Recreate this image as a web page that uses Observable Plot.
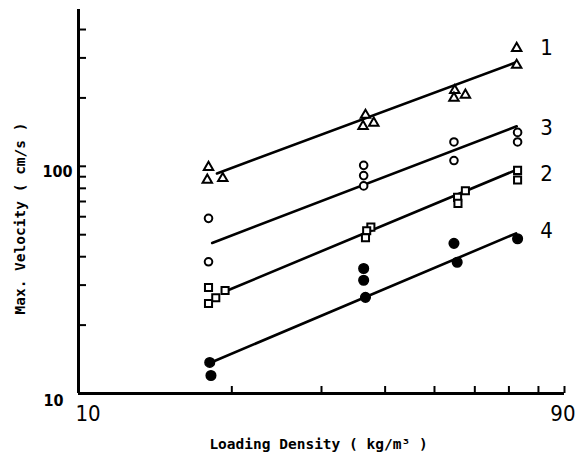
<!DOCTYPE html>
<html>
<head>
<meta charset="utf-8">
<script src="https://cdn.jsdelivr.net/npm/d3@7"></script>
<script src="https://cdn.jsdelivr.net/npm/@observablehq/plot@0.6"></script>
<style>
  html, body { margin: 0; padding: 0; background: #fff; }
  #chart svg { display: block; }
</style>
</head>
<body>
<div id="chart"></div>
<script>
// Series 1: open triangles
const x1 = [18, 17.9, 19.2, 36.6, 36.2, 38.0, 54.8, 54.6, 57.5, 72.5, 72.5];
const y1 = [99, 87, 88.5, 168, 150, 155, 216, 200, 206, 331, 279];
// Series 3: open circles
const x3 = [18, 18, 36.3, 36.3, 36.3, 54.6, 54.6, 72.8, 72.8];
const y3 = [59, 38, 101, 91, 82, 128, 106, 141, 128];
// Series 2: open squares
const x2 = [18, 19.4, 18.6, 18, 37.5, 36.8, 36.6, 57.5, 55.5, 55.6, 72.8, 72.8];
const y2 = [29.3, 28.4, 26.4, 24.9, 54, 52, 48.5, 78, 73, 68.7, 96, 87];
// Series 4: filled circles
const x4 = [18.1, 18.2, 36.3, 36.3, 36.6, 54.6, 55.4, 72.8];
const y4 = [13.7, 12.0, 35.5, 31.5, 26.5, 45.8, 37.8, 48];
// Fitted lines (endpoints)
const fitX1 = [18.7, 72.3], fitY1 = [93, 287];
const fitX3 = [18.3, 72.5], fitY3 = [46, 150];
const fitX2 = [19.6, 72.0], fitY2 = [28.4, 96];
const fitX4 = [18.2, 72.3], fitY4 = [13.7, 50.7];
// Series labels
const seriesNames = ["1", "3", "2", "4"];
const labelX = [83, 83, 83, 83];
const labelY = [331, 148, 93, 52];
// Axis ticks
const xTicks = [10, 20, 30, 40, 50, 60, 70, 80, 90];
const yTicks = [10, 20, 30, 40, 50, 60, 70, 80, 90, 100, 200, 300, 400];
const xDomain = [10, 90];
const yDomain = [10, 490];

const pts = (xs, ys) => xs.map((x, i) => ({x, y: ys[i]}));
const s1 = pts(x1, y1), s2 = pts(x2, y2), s3 = pts(x3, y3), s4 = pts(x4, y4);
const fits = [[fitX1, fitY1], [fitX3, fitY3], [fitX2, fitY2], [fitX4, fitY4]]
  .flatMap(([xs, ys], k) => xs.map((x, i) => ({x, y: ys[i], k})));
const labels = seriesNames.map((t, i) => ({t, x: labelX[i], y: labelY[i]}));

const numFont = "'DejaVu Sans Condensed', 'Liberation Sans Narrow', 'DejaVu Sans', sans-serif";
const monoFont = "'DejaVu Sans Mono', 'Liberation Mono', monospace";

const chart = Plot.plot({
  width: 575,
  height: 459,
  marginLeft: 78,
  marginRight: 11,
  marginTop: 9,
  marginBottom: 66,
  style: {background: "#fff", color: "#000", fontFamily: numFont},
  x: {type: "log", domain: xDomain, axis: null},
  y: {type: "log", domain: yDomain, axis: null},
  marks: [
    // tick marks pointing inward
    Plot.axisY({ticks: yTicks, tickSize: -8, tickFormat: () => "", strokeWidth: 2, anchor: "left", label: null}),
    Plot.axisX({ticks: xTicks, tickSize: -7, tickFormat: () => "", strokeWidth: 2, anchor: "bottom", label: null}),
    // axis lines
    Plot.ruleX([xDomain[0]], {strokeWidth: 3}),
    Plot.ruleY([yDomain[0]], {strokeWidth: 3}),
    // tick labels
    Plot.text([10], {x: () => xDomain[0], y: d => d, text: d => String(d), textAnchor: "end", dx: -15, dy: 7, fontSize: 16, fontWeight: "bold", fontFamily: numFont}),
    Plot.text([100], {x: () => xDomain[0], y: d => d, text: d => String(d), textAnchor: "end", dx: -6, dy: 6, fontSize: 16, fontWeight: "bold", fontFamily: numFont}),
    Plot.text([10], {x: d => d, y: () => yDomain[0], text: d => String(d), textAnchor: "start", dx: -3, dy: 20, fontSize: 22, fontFamily: numFont}),
    Plot.text([90], {x: d => d, y: () => yDomain[0], text: d => String(d), textAnchor: "end", dx: 11, dy: 20, fontSize: 22, fontFamily: numFont}),
    // fitted lines
    Plot.line(fits, {x: "x", y: "y", z: "k", stroke: "#000", strokeWidth: 2.6}),
    // data points
    Plot.dot(s1, {x: "x", y: "y", symbol: "triangle", r: 3.5, stroke: "#000", strokeWidth: 2, fill: "#fff"}),
    Plot.dot(s3, {x: "x", y: "y", symbol: "circle", r: 3.8, stroke: "#000", strokeWidth: 2, fill: "#fff"}),
    Plot.dot(s2, {x: "x", y: "y", symbol: "square", r: 4, stroke: "#000", strokeWidth: 2, fill: "#fff"}),
    Plot.dot(s4, {x: "x", y: "y", symbol: "circle", r: 4.8, fill: "#000", stroke: "#000"}),
    // series labels
    Plot.text(labels, {x: "x", y: "y", text: "t", fontSize: 22, fontFamily: numFont, textAnchor: "middle"}),
    // axis titles
    Plot.text(["Loading Density ( kg/m³ )"], {frameAnchor: "bottom", text: d => d, textAnchor: "middle", dx: -3, dy: 51, fontSize: 14.5, fontWeight: "bold", fontFamily: monoFont, lineAnchor: "middle"}),
    Plot.text(["Max. Velocity ( cm/s )"], {frameAnchor: "left", text: d => d, textAnchor: "middle", dx: -58, dy: 17, rotate: -90, fontSize: 14.5, fontWeight: "bold", fontFamily: monoFont})
  ]
});
document.getElementById("chart").appendChild(chart);
</script>
</body>
</html>
